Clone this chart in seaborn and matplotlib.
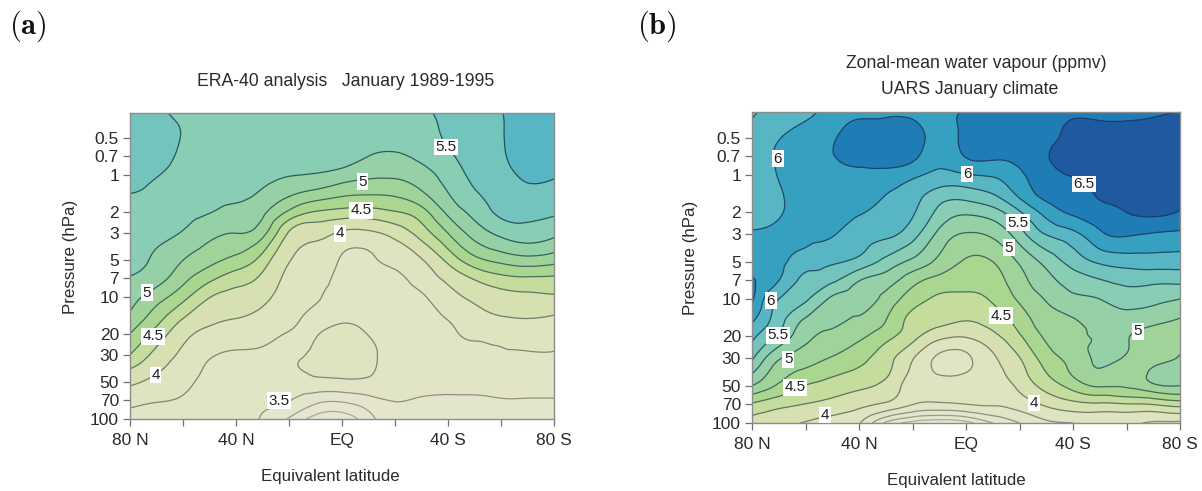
import numpy as np
import seaborn as sns
import matplotlib
matplotlib.use('Agg')
import matplotlib.pyplot as plt
import matplotlib.tri as mtri

sns.set_style('white')
plt.rcParams['font.family'] = ['Liberation Sans', 'DejaVu Sans']
plt.rcParams['mathtext.fontset'] = 'cm'

# pressure rows (hPa), top of the plot first
PRESSURE = [0.31, 0.5, 0.7, 1, 1.5, 2, 3, 5, 7, 10, 15, 20, 30, 40, 50, 70, 100]
# equivalent latitude columns, positive = north
LATITUDE = [80, 70, 60, 50, 40, 30, 20, 10, 0, -10, -20, -30, -40, -50, -60, -70, -80]

P_TICKS = [0.5, 0.7, 1, 2, 3, 5, 7, 10, 20, 30, 50, 70, 100]
P_TICK_LABELS = ['0.5', '0.7', '1', '2', '3', '5', '7', '10', '20', '30', '50', '70', '100']
LAT_TICKS = [80, 60, 40, 20, 0, -20, -40, -60, -80]
LAT_TICK_LABELS = ['80 N', '', '40 N', '', 'EQ', '', '40 S', '', '80 S']

# water vapour (ppmv), one line per latitude, one value per pressure row
ERA40 = [
    [5.60, 5.65, 5.62, 5.56, 5.49, 5.44, 5.38, 5.30, 5.24, 5.11, 4.93, 4.75, 4.49, 4.22, 4.05, 3.83, 3.65],
    [5.53, 5.58, 5.58, 5.51, 5.46, 5.43, 5.33, 5.21, 5.11, 4.86, 4.60, 4.40, 4.17, 4.03, 3.93, 3.77, 3.62],
    [5.47, 5.49, 5.46, 5.42, 5.37, 5.32, 5.23, 5.00, 4.83, 4.58, 4.25, 4.08, 3.94, 3.86, 3.81, 3.72, 3.60],
    [5.45, 5.42, 5.39, 5.36, 5.31, 5.26, 5.08, 4.82, 4.57, 4.26, 4.06, 3.93, 3.77, 3.72, 3.69, 3.62, 3.56],
    [5.42, 5.40, 5.37, 5.34, 5.29, 5.18, 5.00, 4.67, 4.37, 4.16, 4.00, 3.86, 3.73, 3.69, 3.66, 3.60, 3.54],
    [5.42, 5.40, 5.36, 5.31, 5.19, 5.05, 4.83, 4.39, 4.20, 4.07, 3.92, 3.81, 3.72, 3.66, 3.62, 3.55, 3.48],
    [5.44, 5.41, 5.36, 5.26, 5.00, 4.71, 4.22, 4.01, 3.94, 3.87, 3.80, 3.74, 3.72, 3.70, 3.60, 3.51, 3.22],
    [5.45, 5.42, 5.38, 5.23, 4.85, 4.49, 4.07, 3.92, 3.85, 3.77, 3.72, 3.74, 3.78, 3.79, 3.68, 3.34, 2.90],
    [5.45, 5.42, 5.38, 5.14, 4.75, 4.42, 3.96, 3.72, 3.68, 3.68, 3.73, 3.79, 3.83, 3.81, 3.70, 3.30, 2.85],
    [5.47, 5.40, 5.25, 5.05, 4.72, 4.41, 3.95, 3.71, 3.67, 3.67, 3.71, 3.745, 3.79, 3.78, 3.70, 3.42, 3.15],
    [5.45, 5.37, 5.21, 5.04, 4.75, 4.49, 4.09, 3.81, 3.70, 3.66, 3.67, 3.68, 3.67, 3.64, 3.61, 3.51, 3.42],
    [5.47, 5.42, 5.32, 5.14, 4.92, 4.66, 4.36, 3.98, 3.86, 3.72, 3.68, 3.65, 3.63, 3.60, 3.57, 3.48, 3.40],
    [5.54, 5.52, 5.47, 5.36, 5.22, 5.06, 4.75, 4.31, 4.06, 3.91, 3.76, 3.71, 3.67, 3.61, 3.56, 3.47, 3.38],
    [5.60, 5.59, 5.58, 5.55, 5.45, 5.33, 5.10, 4.66, 4.28, 4.05, 3.89, 3.78, 3.71, 3.63, 3.57, 3.47, 3.38],
    [5.74, 5.73, 5.72, 5.68, 5.62, 5.56, 5.31, 4.82, 4.43, 4.16, 3.97, 3.80, 3.73, 3.64, 3.58, 3.49, 3.40],
    [5.83, 5.85, 5.83, 5.78, 5.68, 5.58, 5.39, 4.90, 4.47, 4.20, 4.00, 3.85, 3.73, 3.64, 3.58, 3.49, 3.40],
    [5.85, 5.87, 5.84, 5.77, 5.64, 5.54, 5.31, 4.84, 4.46, 4.22, 3.96, 3.84, 3.73, 3.64, 3.58, 3.49, 3.41],
]

UARS = [
    [5.72, 5.85, 5.95, 5.92, 5.90, 5.90, 6.03, 6.17, 6.27, 6.29, 6.03, 5.81, 5.54, 5.25, 5.00, 4.48, 4.15],
    [5.85, 5.99, 6.02, 6.01, 5.97, 5.98, 6.04, 6.05, 6.01, 5.75, 5.60, 5.44, 5.03, 4.85, 4.71, 4.34, 4.07],
    [5.94, 6.09, 6.13, 6.14, 6.12, 6.10, 6.05, 5.88, 5.68, 5.54, 5.20, 5.07, 4.85, 4.68, 4.49, 4.25, 3.98],
    [6.10, 6.22, 6.24, 6.18, 6.14, 6.12, 6.02, 5.78, 5.56, 5.20, 5.05, 4.93, 4.73, 4.54, 4.40, 4.17, 3.88],
    [6.20, 6.37, 6.33, 6.20, 6.12, 6.03, 5.87, 5.67, 5.27, 5.11, 4.95, 4.80, 4.58, 4.44, 4.31, 4.07, 3.77],
    [6.20, 6.40, 6.38, 6.16, 5.99, 5.92, 5.80, 5.42, 5.13, 4.92, 4.75, 4.59, 4.35, 4.29, 4.18, 3.97, 3.20],
    [6.18, 6.37, 6.32, 6.06, 5.85, 5.78, 5.60, 5.19, 4.85, 4.62, 4.41, 4.33, 4.02, 3.93, 3.87, 3.77, 2.90],
    [6.15, 6.15, 6.09, 5.93, 5.60, 5.43, 5.18, 4.93, 4.67, 4.46, 4.31, 4.08, 3.70, 3.74, 3.82, 3.72, 2.80],
    [6.30, 6.32, 6.27, 5.98, 5.57, 5.29, 4.98, 4.72, 4.58, 4.45, 4.25, 4.02, 3.70, 3.76, 3.85, 3.76, 2.90],
    [6.40, 6.39, 6.30, 6.03, 5.70, 5.39, 5.05, 4.75, 4.64, 4.53, 4.35, 4.18, 3.96, 3.91, 3.86, 3.78, 3.25],
    [6.42, 6.42, 6.35, 6.20, 6.02, 5.72, 5.39, 5.03, 4.91, 4.79, 4.60, 4.47, 4.24, 4.15, 4.06, 3.87, 3.50],
    [6.44, 6.46, 6.49, 6.42, 6.30, 6.09, 5.76, 5.33, 5.17, 5.02, 4.89, 4.80, 4.62, 4.49, 4.35, 4.05, 3.70],
    [6.48, 6.55, 6.55, 6.51, 6.38, 6.29, 5.93, 5.60, 5.37, 5.19, 4.98, 4.96, 4.85, 4.78, 4.60, 4.18, 3.75],
    [6.44, 6.58, 6.58, 6.56, 6.52, 6.39, 6.20, 5.79, 5.49, 5.25, 5.11, 5.01, 5.04, 4.96, 4.78, 4.22, 3.80],
    [6.42, 6.60, 6.62, 6.62, 6.58, 6.50, 6.28, 5.86, 5.58, 5.36, 5.13, 5.01, 4.97, 4.85, 4.78, 4.25, 3.80],
    [6.45, 6.62, 6.62, 6.62, 6.60, 6.55, 6.23, 5.88, 5.57, 5.33, 5.05, 4.92, 4.92, 5.06, 4.95, 4.28, 3.72],
    [6.52, 6.65, 6.68, 6.68, 6.60, 6.48, 6.20, 5.87, 5.58, 5.25, 4.98, 4.95, 5.02, 5.08, 5.00, 4.37, 3.70],
]

LEVELS = np.arange(2.75, 7.01, 0.25)
# one colour per band from 2.75 up to 7
BANDS = ['#e6e6d0', '#e6e6d0', '#e4e5cd', '#e2e4c6', '#dfe3c0', '#d6e0b0', '#c4dc9c', '#abd68f', '#a0d39a',
         '#95d0a6', '#88cdb4', '#74c4be', '#58b6c4', '#36a0c0', '#1f7cb4', '#1f5aa0', '#28368c']
LINE_COLORS = sns.blend_palette(['#b8b8a0', '#8c8c78', '#50705a', '#2c5c58', '#1c4a6a', '#182c68'],
                                n_colors=len(LEVELS))

W, H = 1202, 491
fig = plt.figure(figsize=(W / 100, H / 100), dpi=100)


def panel(rect, values, title_lines, title_x, title_y, xlabel_xy, ylabel_xy, labels):
    left, top, right, bottom = rect
    ax = fig.add_axes([left / W, 1 - bottom / H, (right - left) / W, (bottom - top) / H])
    z = np.array(values).T
    lat_grid, p_grid = np.meshgrid(LATITUDE, np.log10(PRESSURE))
    # smooth curves: let matplotlib refine the read grid, in log pressure
    tri = mtri.Triangulation(lat_grid.ravel(), p_grid.ravel())
    fine, z_fine = mtri.UniformTriRefiner(tri).refine_field(z.ravel(), subdiv=3)
    fine = mtri.Triangulation(fine.x, 10 ** fine.y, fine.triangles)
    ax.tricontourf(fine, z_fine, levels=LEVELS, colors=BANDS)
    ax.tricontour(fine, z_fine, levels=LEVELS, colors=LINE_COLORS, linewidths=0.9)
    ax.set_yscale('log')
    ax.set_ylim(100, 0.31)
    ax.set_xlim(80, -80)
    ax.set_yticks(P_TICKS)
    ax.set_yticklabels(P_TICK_LABELS)
    ax.minorticks_off()
    ax.set_xticks(LAT_TICKS)
    ax.set_xticklabels(LAT_TICK_LABELS)
    ax.tick_params(axis='both', direction='out', length=5, width=0.9, color='#707070',
                   labelsize=12.5, labelcolor='#2a2a2a', left=True, bottom=True, pad=3)
    ax.tick_params(axis='x', pad=5)
    for s in ax.spines.values():
        s.set_color('#8c8c8c')
        s.set_linewidth(1.0)
    for lat, p, txt in labels:
        ax.text(lat, p, txt, fontsize=11, color='#202020', ha='center', va='center',
                bbox=dict(facecolor='white', edgecolor='none', pad=1.0))
    for txt, x, y in zip(title_lines, title_x, title_y):
        fig.text(x / W, 1 - y / H, txt, fontsize=12.7, color='#2a2a2a', ha='center', va='center')
    fig.text(xlabel_xy[0] / W, 1 - xlabel_xy[1] / H, 'Equivalent latitude', fontsize=12.2,
             color='#2a2a2a', ha='center', va='center')
    fig.text(ylabel_xy[0] / W, 1 - ylabel_xy[1] / H, 'Pressure (hPa)', fontsize=12.2, rotation=90,
             color='#2a2a2a', ha='center', va='center')
    return ax


era_labels = [(-39.2, 0.59, '5.5'), (-7.7, 1.13, '5'), (-7.2, 1.95, '4.5'), (0.8, 3.0, '4'),
              (73.6, 9.2, '5'), (71.2, 21, '4.5'), (70.4, 43.5, '4'), (23.8, 71, '3.5')]
uars_labels = [(70.3, 0.74, '6'), (-0.4, 0.98, '6'), (-44.1, 1.18, '6.5'), (-19.4, 2.43, '5.5'),
               (-16.1, 3.86, '5'), (-13.1, 13.6, '4.5'), (-64.3, 18.2, '5'), (-25.4, 69, '4'),
               (72.9, 10.3, '6'), (70.3, 19.6, '5.5'), (66.5, 30.6, '5'), (63.9, 51.4, '4.5'),
               (52.7, 86, '4')]

panel((130, 113, 554, 419), ERA40, ['ERA-40 analysis   January 1989-1995'], [346], [82],
      (330, 476), (70, 257), era_labels)
panel((752, 112, 1180, 423), UARS, ['Zonal-mean water vapour (ppmv)', 'UARS January climate'],
      [976, 970], [64, 89], (956, 481), (690, 258), uars_labels)

fig.text(28 / W, 1 - 26 / H, r'$\mathbf{(a)}$', fontsize=22, color='#111111', ha='center', va='center')
fig.text(657 / W, 1 - 26 / H, r'$\mathbf{(b)}$', fontsize=22, color='#111111', ha='center', va='center')

fig.savefig('out.png', dpi=100, facecolor='white')
